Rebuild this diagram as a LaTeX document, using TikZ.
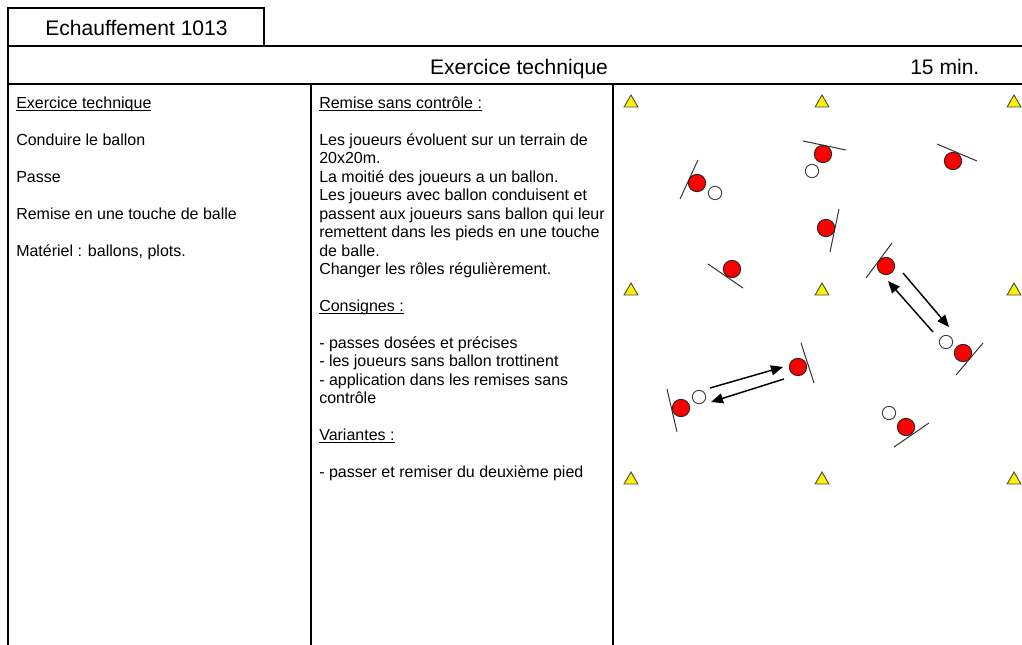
\documentclass[tikz,border=0pt]{standalone}
\usepackage{fontspec}
\setmainfont{Liberation Sans}
\newcommand{\souligne}[1]{\setbox0\hbox{#1}\rlap{\rule[-1.8pt]{\wd0}{0.6pt}}\box0}
\usetikzlibrary{arrows.meta,shapes.geometric}

\tikzset{
  frame/.style={line width=1.6pt},
  txt/.style={anchor=base west,inner sep=0pt,font=\fontsize{12}{14}\selectfont},
  head/.style={anchor=base,inner sep=0pt,font=\fontsize{15.8}{18}\selectfont},
  cone/.style={regular polygon,regular polygon sides=3,fill=yellow,draw=black!70,line width=0.7pt,inner sep=0pt,minimum size=12pt},
  player/.style={circle,fill=red,draw=black!85,line width=0.7pt,inner sep=0pt,minimum size=13pt},
  ball/.style={circle,fill=white,draw=black!75,line width=0.7pt,inner sep=0pt,minimum size=10pt},
  body/.style={draw=black!80,line width=0.75pt},
  pass/.style={line width=1.1pt,-{Triangle[length=9pt,width=7.5pt]}}
}

\begin{document}
\begin{tikzpicture}[x=0.75pt,y=-0.75pt]
\useasboundingbox (0,0) rectangle (1022,645);
% cadre
\draw[frame] (8,645) -- (8,8) -- (264,8) -- (264,46);
\draw[frame] (8,46) -- (1022,46);
\draw[frame] (8,84) -- (1022,84);
\draw[frame] (311,84) -- (311,645);
\draw[frame] (613,84) -- (613,645);
% en-tete
\node[head] (titre) at (136.5,36) {Echauffement 1013};
\node[head] (theme) at (519,74.5) {Exercice technique};
\node[head,anchor=base west] (duree) at (910,74.5) {15 min.};
% colonne gauche (lignes de 18.45)
\node[txt] (objectif) at (16,108.5) {\souligne{Exercice technique}};
\foreach \t [count=\i from 1] in {Conduire le ballon, Passe, Remise en une touche de balle, {Matériel : ballons, plots.}}
  \node[txt] (g\i) at (16,{108.5+36.9*\i}) {\t};
% colonne milieu
\node[txt] (descr) at (319,108.5) {\souligne{Remise sans contrôle :}};
\foreach \t [count=\i from 2] in {Les joueurs évoluent sur un terrain de, 20x20m., La moitié des joueurs a un ballon., Les joueurs avec ballon conduisent et, passent aux joueurs sans ballon qui leur, remettent dans les pieds en une touche, de balle., Changer les rôles régulièrement.}
  \node[txt] (d\i) at (319,{108.5+18.45*\i}) {\t};
\node[txt] (consignes) at (319,{108.5+18.45*11}) {\souligne{Consignes :}};
\foreach \t [count=\i from 13] in {- passes dosées et précises, - les joueurs sans ballon trottinent, - application dans les remises sans, contrôle}
  \node[txt] (c\i) at (319,{108.5+18.45*\i}) {\t};
\node[txt] (variantes) at (319,{108.5+18.45*18}) {\souligne{Variantes :}};
\node[txt] (v0) at (319,{108.5+18.45*20}) {- passer et remiser du deuxième pied};
% terrain : plots
\foreach \x in {631,822,1014}
  \foreach \y in {103,291,480}
    \node[cone] at (\x,\y) {};
% orientations
\draw[body] (680,199) -- (698,160);
\draw[body] (803,141) -- (846,150);
\draw[body] (937,144) -- (977,161);
\draw[body] (839,209) -- (830,252);
\draw[body] (708,264) -- (743,288);
\draw[body] (892,243) -- (866,278);
\draw[body] (983,343) -- (956,375);
\draw[body] (801,343) -- (814,383);
\draw[body] (667,389) -- (677,432);
\draw[body] (929,423) -- (894,447);
% joueurs
\node[player] (j1) at (697,183) {};
\node[player] (j2) at (823,154) {};
\node[player] (j3) at (953,161) {};
\node[player] (j4) at (826,228) {};
\node[player] (j5) at (732,269) {};
\node[player] (j6) at (886,266) {};
\node[player] (j7) at (963,353) {};
\node[player] (j8) at (798,367) {};
\node[player] (j9) at (681,408) {};
\node[player] (j10) at (906,427) {};
% ballons
\node[ball] (b1) at (715,193) {};
\node[ball] (b2) at (812,171) {};
\node[ball] (b7) at (946,342) {};
\node[ball] (b9) at (699,397) {};
\node[ball] (b10) at (889,413) {};
% passes
\coordinate (p1a) at (933,332);
\coordinate (p1b) at (888,281);
\coordinate (p2a) at (903,273);
\coordinate (p2b) at (949,327);
\coordinate (p3a) at (710,388);
\coordinate (p3b) at (783,367);
\coordinate (p4a) at (784,379);
\coordinate (p4b) at (711,402);
\draw[pass] (p1a) -- (p1b);
\draw[pass] (p2a) -- (p2b);
\draw[pass] (p3a) -- (p3b);
\draw[pass] (p4a) -- (p4b);
\end{tikzpicture}
\end{document}
